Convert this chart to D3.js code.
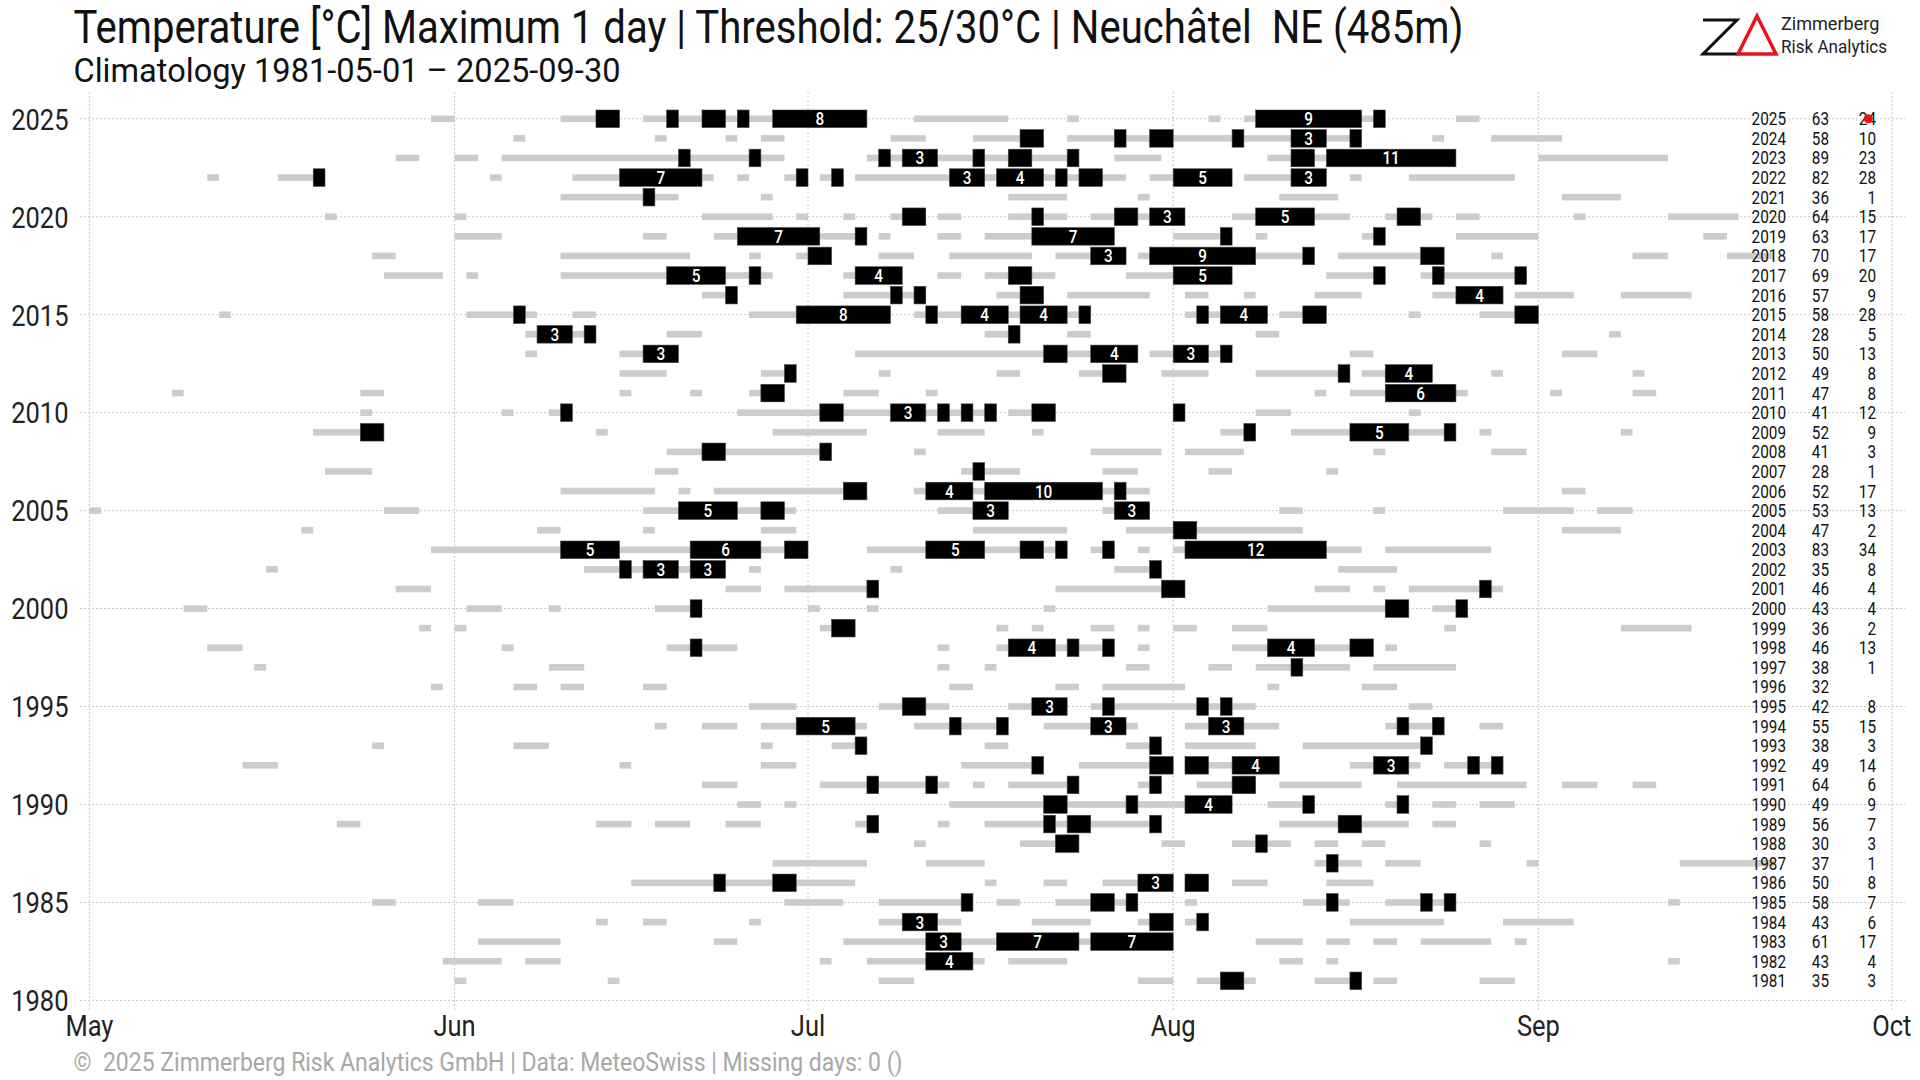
<!DOCTYPE html>
<html><head><meta charset="utf-8">
<script src="https://cdn.jsdelivr.net/npm/d3@7"></script>
<style>body{margin:0;background:#fff} text{font-family:Roboto,"Noto Sans",sans-serif;white-space:pre}</style>
</head><body>
<svg id="chart" width="1920" height="1080"></svg>
<script>
// ---------------- DATA ----------------
const years = [2025,2024,2023,2022,2021,2020,2019,2018,2017,2016,2015,2014,2013,2012,2011,2010,2009,2008,2007,2006,2005,2004,2003,2002,2001,2000,1999,1998,1997,1996,1995,1994,1993,1992,1991,1990,1989,1988,1987,1986,1985,1984,1983,1982,1981];
const count25 = [63,58,89,82,36,64,63,70,69,57,58,28,50,49,47,41,52,41,28,52,53,47,83,35,46,43,36,46,38,32,42,55,38,49,64,49,56,30,37,50,58,43,61,43,35];
const count30 = [24,10,23,28,1,15,17,17,20,9,28,5,13,8,8,12,9,3,1,17,13,2,34,8,4,4,2,13,1,"",8,15,3,14,6,9,7,3,1,8,7,6,17,4,3];
// runs of days >= 25°C: [first day counted from 1 May, number of days], one list per year (same order as years)
const runs25 = [
 [[29,2],[40,5],[47,19],[70,8],[83,1],[95,1],[98,12],[116,2]],
 [[36,1],[48,1],[54,1],[57,2],[68,3],[75,6],[83,25],[114,1],[119,6]],
 [[26,2],[31,2],[35,24],[66,18],[87,4],[100,16],[123,11]],
 [[10,1],[16,4],[34,1],[41,12],[55,1],[59,2],[62,2],[65,23],[90,7],[98,7],[107,1],[112,9]],
 [[40,10],[57,1],[78,5],[89,1],[101,5],[125,5]],
 [[20,1],[31,1],[52,6],[60,1],[64,1],[68,3],[72,2],[78,5],[85,8],[97,10],[110,4],[116,2],[126,1],[134,6]],
 [[31,4],[47,2],[53,13],[67,1],[72,2],[76,11],[92,5],[99,1],[108,2],[116,7],[137,2]],
 [[24,2],[40,11],[56,1],[60,3],[67,3],[73,7],[82,6],[89,15],[106,9],[119,1],[131,3],[139,4]],
 [[25,5],[32,1],[40,18],[64,5],[72,2],[76,6],[88,9],[105,5],[113,9]],
 [[52,3],[64,7],[77,4],[83,7],[93,2],[98,1],[104,4],[114,6],[121,5],[130,6]],
 [[11,1],[32,6],[41,2],[56,12],[70,15],[93,7],[101,4],[112,1],[118,5]],
 [[37,6],[49,3],[76,3],[83,2],[99,2],[129,1]],
 [[37,1],[45,5],[65,24],[90,7],[107,2],[125,3]],
 [[45,4],[57,3],[67,1],[77,2],[84,4],[91,4],[99,8],[108,6],[119,1],[131,1]],
 [[7,1],[23,2],[45,1],[51,1],[56,3],[64,3],[71,1],[104,1],[107,10],[124,1],[131,2]],
 [[23,1],[35,1],[39,2],[55,22],[78,4],[92,1],[99,3],[112,1]],
 [[19,6],[43,1],[58,8],[72,4],[80,1],[96,3],[102,14],[118,1],[130,1]],
 [[49,14],[70,1],[85,6],[93,5],[109,1],[119,3]],
 [[20,4],[48,2],[74,5],[86,3],[95,2],[105,1]],
 [[40,8],[50,1],[53,13],[70,20],[125,2]],
 [[0,1],[25,3],[47,13],[72,6],[86,4],[101,2],[109,1],[120,6],[128,3]],
 [[18,1],[38,2],[47,1],[57,3],[75,8],[88,15],[125,5]],
 [[29,32],[66,17],[85,2],[89,1],[92,16],[110,9]],
 [[15,1],[42,12],[56,1],[68,1],[87,4],[106,5]],
 [[26,3],[54,3],[59,8],[82,11],[104,3],[109,1],[112,8]],
 [[8,2],[32,3],[39,1],[48,4],[61,1],[66,1],[81,1],[100,12],[114,3]],
 [[28,1],[31,1],[62,3],[77,1],[80,1],[85,2],[89,1],[92,2],[97,3],[115,1],[130,6]],
 [[10,3],[35,1],[49,6],[72,1],[77,10],[89,1],[97,12],[110,1]],
 [[14,1],[39,3],[72,1],[76,1],[88,2],[95,2],[99,8],[109,7]],
 [[29,1],[36,2],[40,2],[47,2],[73,2],[82,2],[86,7],[100,1],[108,3]],
 [[56,4],[67,6],[78,5],[85,14],[112,2]],
 [[48,1],[52,3],[57,9],[70,8],[81,8],[93,8],[110,5],[118,2]],
 [[24,1],[36,3],[57,1],[63,3],[76,2],[88,3],[93,6],[103,11]],
 [[13,3],[45,1],[57,3],[74,7],[84,8],[93,8],[107,6],[115,5]],
 [[52,3],[62,11],[75,1],[78,6],[89,2],[94,5],[101,7],[111,11],[125,3],[131,2]],
 [[55,2],[59,1],[73,24],[100,4],[110,2],[114,2],[118,3]],
 [[21,2],[43,3],[48,3],[54,3],[65,2],[72,1],[76,15],[101,11],[114,2]],
 [[70,1],[79,5],[91,2],[97,5],[104,2],[108,2],[118,1]],
 [[58,8],[71,5],[104,4],[110,3],[122,1],[135,8]],
 [[46,19],[76,1],[81,2],[86,6],[93,2],[97,3],[105,4]],
 [[24,2],[33,3],[59,5],[67,8],[77,2],[82,7],[93,1],[103,4],[110,6],[134,1]],
 [[43,1],[47,2],[56,1],[67,7],[80,5],[89,3],[93,2],[107,8],[120,6]],
 [[33,7],[53,2],[64,28],[99,4],[105,2],[109,2],[113,6],[121,1]],
 [[30,5],[37,3],[62,1],[66,10],[78,5],[101,2],[105,1],[134,1]],
 [[31,1],[44,1],[67,3],[89,3],[94,5],[104,4],[109,2],[118,3]]
];
// runs of days >= 30°C
const runs30 = [
 [[43,2],[49,1],[52,2],[55,1],[58,8],[99,9],[109,1]],
 [[79,2],[87,1],[90,2],[97,1],[102,3],[107,1]],
 [[50,1],[56,1],[67,1],[69,3],[75,1],[78,2],[83,1],[102,2],[105,11]],
 [[19,1],[45,7],[60,1],[63,1],[73,3],[77,4],[82,1],[84,2],[92,5],[102,3]],
 [[47,1]],
 [[69,2],[80,1],[87,2],[90,3],[99,5],[111,2]],
 [[55,7],[65,1],[80,7],[96,1],[109,1]],
 [[61,2],[85,3],[90,9],[103,1],[113,2]],
 [[49,5],[56,1],[65,4],[78,2],[92,5],[109,1],[114,1],[121,1]],
 [[54,1],[68,1],[70,1],[79,2],[116,4]],
 [[36,1],[60,8],[71,1],[74,4],[79,4],[84,1],[94,1],[96,4],[103,2],[121,2]],
 [[38,3],[42,1],[78,1]],
 [[47,3],[81,2],[85,4],[92,3],[96,1]],
 [[59,1],[86,2],[106,1],[110,4]],
 [[57,2],[110,6]],
 [[40,1],[62,2],[68,3],[72,1],[74,1],[76,1],[80,2],[92,1]],
 [[23,2],[98,1],[107,5],[115,1]],
 [[52,2],[62,1]],
 [[75,1]],
 [[64,2],[71,4],[76,10],[87,1]],
 [[50,5],[57,2],[75,3],[87,3]],
 [[92,2]],
 [[40,5],[51,6],[59,2],[71,5],[79,2],[82,1],[86,1],[93,12]],
 [[45,1],[47,3],[51,3],[90,1]],
 [[66,1],[91,2],[118,1]],
 [[51,1],[110,2],[116,1]],
 [[63,2]],
 [[51,1],[78,4],[83,1],[86,1],[100,4],[107,2]],
 [[102,1]],
 [],
 [[69,2],[80,3],[86,1],[94,1],[96,1]],
 [[60,5],[73,1],[77,1],[85,3],[95,3],[111,1],[114,1]],
 [[65,1],[90,1],[113,1]],
 [[80,1],[90,2],[93,2],[97,4],[109,3],[117,1],[119,1]],
 [[66,1],[71,1],[83,1],[90,1],[97,2]],
 [[81,2],[88,1],[93,4],[103,1],[111,1]],
 [[66,1],[81,1],[83,2],[90,1],[106,2]],
 [[82,2],[99,1]],
 [[105,1]],
 [[53,1],[58,2],[89,3],[93,2]],
 [[74,1],[85,2],[88,1],[105,1],[113,1],[115,1]],
 [[69,3],[90,2],[94,1]],
 [[71,3],[77,7],[85,7]],
 [[71,4]],
 [[96,2],[107,1]]
];
const monthTicks = ["May","Jun","Jul","Aug","Sep","Oct"];
const yearTicks = [1980,1985,1990,1995,2000,2005,2010,2015,2020,2025];
const lastDay = 151.8; // last observation, 30 Sep 2025 (days after 1 May)
const titleText = "Temperature [°C] Maximum 1 day | Threshold: 25/30°C | Neuchâtel  NE (485m)";
const subtitleText = "Climatology 1981-05-01 \u2013 2025-09-30";
const footerText = "\u00a9  2025 Zimmerberg Risk Analytics GmbH | Data: MeteoSwiss | Missing days: 0 ()";

// ---------------- DRAWING ----------------
const svg = d3.select("#chart");
const dayDate = d => new Date(2001, 4, 1 + d);
const x = d3.scaleTime().domain([new Date(2001,4,1), new Date(2001,9,1)]).range([89.4, 1891.8]);
const y = d3.scaleLinear().domain([1980, 2025]).range([1000.4, 118.8]);

function condense(sel, f) {
  sel.each(function(){
    const w = this.getComputedTextLength();
    this.setAttribute("textLength", (f < 5 ? w * f : f));
    this.setAttribute("lengthAdjust", "spacingAndGlyphs");
  });
  return sel;
}

// grid
const grid = svg.append("g");
grid.selectAll("line.h").data(yearTicks).join("line")
  .attr("x1", 80).attr("x2", 1905).attr("y1", d => y(d)).attr("y2", d => y(d))
  .attr("stroke", "#c8c8c8").attr("stroke-width", 1).attr("stroke-dasharray", "2,2");
const monthDates = monthTicks.map((m,i) => new Date(2001, 4 + i, 1));
grid.selectAll("line.v").data(monthDates).join("line")
  .attr("x1", d => x(d)).attr("x2", d => x(d)).attr("y1", 92).attr("y2", 1010)
  .attr("stroke", "#c8c8c8").attr("stroke-width", 1).attr("stroke-dasharray", "2,2");

// grey runs
const g25 = svg.append("g");
years.forEach((yr, i) => {
  g25.selectAll(null).data(runs25[i]).join("rect")
    .attr("x", d => x(dayDate(d[0])))
    .attr("width", d => x(dayDate(d[0] + d[1])) - x(dayDate(d[0])))
    .attr("y", y(yr) - 3.3).attr("height", 6.6)
    .attr("fill", "#cccccc");
});
// black runs
const g30 = svg.append("g");
years.forEach((yr, i) => {
  g30.selectAll(null).data(runs30[i]).join("rect")
    .attr("x", d => x(dayDate(d[0])))
    .attr("width", d => x(dayDate(d[0] + d[1])) - x(dayDate(d[0])))
    .attr("y", y(yr) - 8.8).attr("height", 17.6)
    .attr("fill", "#000").attr("stroke", "#444").attr("stroke-width", 0.6);
  const lab = g30.selectAll(null).data(runs30[i].filter(d => d[1] >= 3)).join("text")
    .attr("x", d => (x(dayDate(d[0])) + x(dayDate(d[0] + d[1]))) / 2)
    .attr("y", y(yr)).attr("dy", "0.36em")
    .attr("text-anchor", "middle").attr("fill", "#fff")
    .attr("font-size", 18).attr("font-weight", 500)
    .text(d => d[1]);
  condense(lab, 0.85);
});

// axes labels
const yl = svg.append("g").selectAll("text").data(yearTicks).join("text")
  .attr("x", 68.5).attr("y", d => y(d)).attr("dy", "0.36em").attr("text-anchor", "end")
  .attr("font-size", 30).attr("fill", "#222").text(d => d);
condense(yl, 0.85);
const xl = svg.append("g").selectAll("text").data(monthDates).join("text")
  .attr("x", d => x(d)).attr("y", 1036).attr("text-anchor", "middle")
  .attr("font-size", 30).attr("fill", "#222").text((d,i) => monthTicks[i]);
condense(xl, 0.85);

// table at right
const tab = svg.append("g");
years.forEach((yr, i) => {
  const cy = y(yr);
  const cells = [[yr, 1786], [count25[i], 1829], [count30[i], 1876]];
  cells.forEach(c => {
    const t = tab.append("text").attr("x", c[1]).attr("y", cy).attr("dy", "0.36em")
      .attr("text-anchor", "end").attr("font-size", 18).attr("fill", "#111").text(c[0]);
    condense(t, 0.85);
  });
});
// last observation marker
svg.append("circle").attr("cx", x(dayDate(lastDay))).attr("cy", y(2025)).attr("r", 4.5).attr("fill", "#e8141b");

// titles
condense(svg.append("text").attr("x", 73.5).attr("y", 43).attr("font-size", 46).attr("fill", "#111").text(titleText), 1390);
condense(svg.append("text").attr("x", 73.5).attr("y", 82).attr("font-size", 34).attr("fill", "#111").text(subtitleText), 547);
condense(svg.append("text").attr("x", 73.5).attr("y", 1071).attr("font-size", 26).attr("fill", "#a8a8a8").text(footerText), 829);

// logo
const logo = svg.append("g");
logo.append("path").attr("d", "M1703,20 L1737,20 L1703,54 L1738,54").attr("fill", "none").attr("stroke", "#111").attr("stroke-width", 3);
logo.append("path").attr("d", "M1757,16 L1776,54 L1738,54 Z").attr("fill", "none").attr("stroke", "#e8141b").attr("stroke-width", 3.5);
condense(logo.append("text").attr("x", 1781).attr("y", 30).attr("font-size", 19).attr("fill", "#222").text("Zimmerberg"), 0.95);
condense(logo.append("text").attr("x", 1781).attr("y", 53).attr("font-size", 19).attr("fill", "#222").text("Risk Analytics"), 0.9);
</script>
</body></html>
